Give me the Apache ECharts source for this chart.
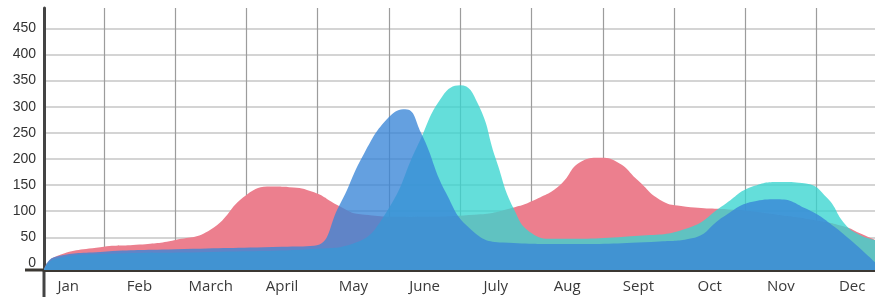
<!DOCTYPE html>
<html lang="en">
<head>
	<meta charset="UTF-8">
	<title>monthly areas</title>
	<style type="text/css">
	body,html{
		width: 100%;
		height: 100%;
		margin: 0;
		padding: 0;
		background: #fff;
	}
	#chart{
		width: 875px;
		height: 297px;
	}
	</style>
</head>
<body>
<div id="chart"></div>
<script type="text/javascript" src="https://cdn.jsdelivr.net/npm/echarts@6/dist/echarts.min.js"></script>
<script type="text/javascript">
// x positions are in months: band k runs from k to k+1
var months = ['Jan', 'Feb', 'March', 'April', 'May', 'June', 'July', 'Aug', 'Sept', 'Oct', 'Nov', 'Dec'];
var yTicks = [0, 50, 100, 150, 200, 250, 300, 350, 400, 450];
var monthLines = [1, 2, 3, 4, 5, 6, 7, 8, 9, 10, 11];
var monthCenters = [0.5, 1.5, 2.5, 3.5, 4.5, 5.5, 6.5, 7.5, 8.5, 9.5, 10.5, 11.5];

var redData = [[0.16, -12], [0.3, 12], [0.95, 31], [1.5, 36], [2.0, 45], [2.5, 65],
	[3.0, 131], [3.35, 147], [3.6, 146], [3.95, 136], [4.3, 110], [4.6, 94], [5.3, 89],
	[6.2, 93], [6.7, 105], [7.1, 125], [7.4, 150], [7.7, 195], [7.95, 202], [8.2, 194],
	[8.5, 158], [8.8, 122], [9.1, 110], [9.9, 102], [10.5, 92], [11.0, 82], [11.4, 70],
	[11.6, 58], [11.82, 45]];

var tealData = [[0.16, -12], [0.3, 8], [0.95, 18], [2.5, 22], [4.0, 28], [4.5, 38],
	[4.95, 95], [5.4, 225], [5.75, 320], [6.0, 341], [6.25, 305], [6.5, 200], [6.75, 105],
	[7.0, 58], [7.3, 47], [8.5, 53], [9.2, 68], [9.7, 112], [10.1, 147], [10.5, 156],
	[10.85, 153], [11.15, 125], [11.4, 75], [11.6, 55], [11.82, 45]];

var blueData = [[0.16, -12], [0.3, 12], [0.95, 22], [2.0, 27], [3.5, 32], [3.95, 34],
	[4.3, 110], [4.65, 210], [5.0, 280], [5.23, 295], [5.45, 250], [5.8, 135], [6.15, 65],
	[6.6, 40], [7.5, 37], [8.8, 42], [9.25, 48], [9.7, 90], [10.1, 118], [10.45, 123],
	[10.85, 105], [11.25, 70], [11.82, 2]];

var chart = echarts.init(document.getElementById('chart'));

function areaSeries(data, color) {
	return {
		type: 'line',
		data: data,
		smooth: 0.5,
		showSymbol: false,
		silent: true,
		lineStyle: { width: 0 },
		areaStyle: { color: color, opacity: 1, origin: 'start' }
	};
}

var option = {
	animation: false,
	grid: { left: 44, right: 0, top: 8, bottom: 27 },
	xAxis: {
		type: 'value',
		min: 0.16,
		max: 11.82,
		axisLine: { onZero: false, lineStyle: { color: '#3b3833', width: 3 } },
		axisTick: { show: false, customValues: monthLines },
		splitLine: { show: true, lineStyle: { color: '#9c9c9c', width: 1.2 } },
		axisLabel: {
			customValues: monthCenters,
			margin: 9,
			color: '#3a3a3a',
			fontSize: 15,
			fontFamily: 'Open Sans',
			formatter: function (v) { return months[Math.floor(v)]; }
		}
	},
	yAxis: {
		type: 'value',
		min: -12.6,
		max: 488.8,
		axisLine: { show: true, onZero: false, lineStyle: { color: '#444', width: 3 } },
		axisTick: { show: false, customValues: yTicks },
		splitLine: { show: true, lineStyle: { color: '#c6c6c6', width: 1.6 } },
		axisLabel: {
			customValues: yTicks,
			margin: 8,
			color: '#333',
			fontSize: 14,
			fontFamily: 'Liberation Sans',
			padding: [0, 0, 6, 0]
		}
	},
	graphic: [
		{ type: 'line', shape: { x1: 44, y1: 270, x2: 44, y2: 297 }, style: { stroke: '#444', lineWidth: 3 } },
		{ type: 'line', shape: { x1: 25, y1: 270, x2: 44, y2: 270 }, style: { stroke: '#3b3833', lineWidth: 3 } }
	],
	series: [
		areaSeries(redData, '#ec7f8e'),
		areaSeries(tealData, 'rgba(56,213,208,0.78)'),
		areaSeries(blueData, 'rgba(56,133,215,0.78)')
	]
};

chart.setOption(option);
window.addEventListener('resize', function () {
	chart.resize();
});
</script>
</body>
</html>
